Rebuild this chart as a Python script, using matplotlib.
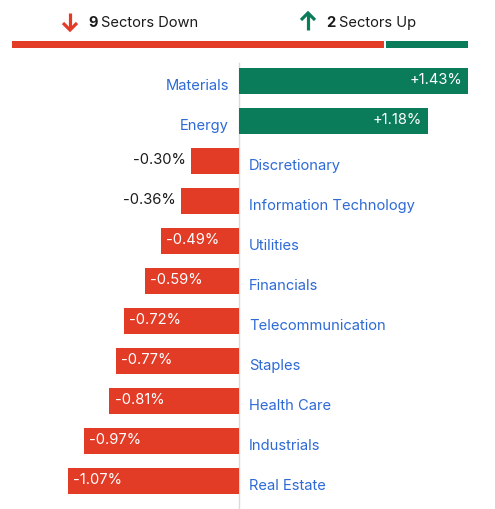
import matplotlib.pyplot as plt
import numpy as np

# Datos
sectores = ['Materials', 'Energy', 'Discretionary', 'Information Technology',
            'Utilities', 'Financials', 'Telecommunication', 'Staples',
            'Health Care', 'Industrials', 'Real Estate']
cambios = [1.43, 1.18, -0.30, -0.36, -0.49, -0.59, -0.72, -0.77, -0.81, -0.97, -1.07]
n_bajan = 9
n_suben = 2

ROJO = '#E23B26'
VERDE = '#0A7C59'
AZUL = '#2D6AD6'
NEGRO = '#1B1B1B'
FS = 10.6

plt.rcParams['font.family'] = ['Inter', 'DejaVu Sans']

W, H = 495, 510
fig = plt.figure(figsize=(W / 100, H / 100), dpi=100)

def px(x0, y0, x1, y1):
    # caja en pixeles (origen arriba-izquierda) -> fraccion de figura
    return [x0 / W, 1 - y1 / H, (x1 - x0) / W, (y1 - y0) / H]

# Flecha estilo icono (tallo + chevron)
def flecha(axx, x, y0, y1, color):
    d = 1 if y1 > y0 else -1
    axx.plot([x, x], [y0, y1 - d * 1], color=color, lw=2.3, solid_capstyle='butt')
    axx.plot([x - 7, x, x + 7], [y1 - d * 7, y1, y1 - d * 7], color=color, lw=2.3,
             solid_joinstyle='miter', solid_capstyle='butt')

# Encabezado (ejes en pixeles)
axh = fig.add_axes(px(0, 0, W, 40))
axh.set_xlim(0, W)
axh.set_ylim(40, 0)
axh.axis('off')
flecha(axh, 70, 14, 31, ROJO)
flecha(axh, 308, 31, 14, VERDE)
axh.text(88, 23, str(n_bajan), color=NEGRO, fontsize=FS, fontweight='bold',
         ha='left', va='center')
axh.text(101, 23, 'Sectors Down', color=NEGRO, fontsize=FS, ha='left', va='center')
axh.text(326, 23, str(n_suben), color=NEGRO, fontsize=FS, fontweight='bold',
         ha='left', va='center')
axh.text(339, 23, 'Sectors Up', color=NEGRO, fontsize=FS, ha='left', va='center')

# Barra de progreso
axp = fig.add_axes(px(12, 42, 468, 48.5))
total = n_bajan + n_suben
axp.barh(0, n_bajan - 0.025, left=0, height=1, color=ROJO)
axp.barh(0, n_suben - 0.025, left=n_bajan + 0.025, height=1, color=VERDE)
axp.set_xlim(0, total)
axp.set_ylim(-0.5, 0.5)
axp.axis('off')

# Grafico principal
ax = fig.add_axes(px(0, 61.5, W, H))
y = np.arange(len(sectores))
colores = [VERDE if v > 0 else ROJO for v in cambios]
ax.barh(y, cambios, height=0.65, color=colores)
ax.set_xlim(-239 / 160, (W - 239) / 160)
ax.set_ylim(10.71, -0.5)
ax.plot([0, 0], [-0.45, 10.75], color='#DADADA', lw=1, zorder=0)

off = 5.5 / 160
for i, (s, v) in enumerate(zip(sectores, cambios)):
    et = f'{v:+.2f}%'
    if v > 0:
        ax.text(-10 / 160, i + 0.1, s, color=AZUL, fontsize=FS, ha='right', va='center')
        ax.text(v - off, i - 0.03, et, color='white', fontsize=FS, ha='right', va='center')
    else:
        ax.text(10 / 160, i + 0.12, s, color=AZUL, fontsize=FS, ha='left', va='center')
        if abs(v) > 0.4:
            ax.text(v + off, i - 0.03, et, color='white', fontsize=FS, ha='left', va='center')
        else:
            ax.text(v - off, i - 0.03, et, color=NEGRO, fontsize=FS, ha='right', va='center')
ax.axis('off')

fig.savefig('out.png', dpi=100)
